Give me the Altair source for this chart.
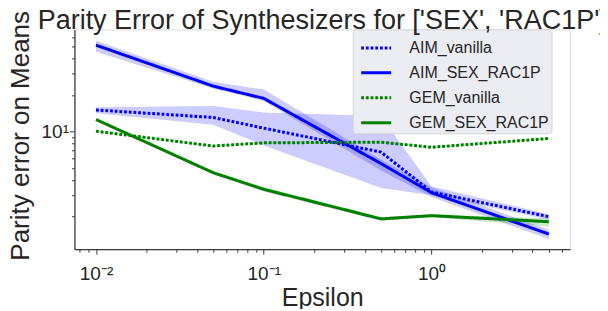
import altair as alt
import pandas as pd

# ---- data ----
epsilon = [0.01, 0.05, 0.1, 0.5, 1, 5]
series_names = ["AIM_vanilla", "AIM_SEX_RAC1P", "GEM_vanilla", "GEM_SEX_RAC1P"]

aim_vanilla = [15.1, 13.1, 10.7, 6.8, 3.2, 2.0]
aim_vanilla_lo = [14.2, 11.4, 7.7, 3.45, 3.0, 1.9]
aim_vanilla_hi = [15.9, 16.3, 14.4, 13.5, 3.55, 2.1]

aim_sex = [51.5, 23.7, 18.8, 5.47, 3.15, 1.44]
aim_sex_lo = [45.4, 22.7, 17.9, 4.8, 2.9, 1.31]
aim_sex_hi = [56.0, 25.7, 22.2, 5.9, 3.5, 1.56]

gem_vanilla = [10.1, 7.63, 8.1, 8.2, 7.45, 8.8]
gem_vanilla_lo = [9.95, 7.5, 7.95, 8.05, 7.3, 8.65]
gem_vanilla_hi = [10.25, 7.75, 8.25, 8.35, 7.6, 8.95]

gem_sex = [12.6, 4.6, 3.36, 1.92, 2.04, 1.82]
gem_sex_lo = [12.45, 4.5, 3.22, 1.85, 1.98, 1.66]
gem_sex_hi = [12.75, 4.7, 3.5, 1.99, 2.10, 1.94]

x_major = [0.01, 0.1, 1]
x_minor = [0.008, 0.009, 0.02, 0.03, 0.04, 0.05, 0.06, 0.07, 0.08, 0.09,
           0.2, 0.3, 0.4, 0.5, 0.6, 0.7, 0.8, 0.9, 2, 3, 4, 5, 6]
y_major = [10]
y_minor = [2, 3, 4, 5, 6, 7, 8, 9, 20, 30, 40, 50, 60]

colors = ["#0000ff", "#0000ff", "#008000", "#008000"]
dashes = [[2.8, 1.9], [1, 0], [2.8, 1.9], [1, 0]]

# ---- build table ----
vals = [aim_vanilla, aim_sex, gem_vanilla, gem_sex]
los = [aim_vanilla_lo, aim_sex_lo, gem_vanilla_lo, gem_sex_lo]
his = [aim_vanilla_hi, aim_sex_hi, gem_vanilla_hi, gem_sex_hi]
rows = []
for name, v, lo, hi in zip(series_names, vals, los, his):
    for e, a, b, c in zip(epsilon, v, lo, hi):
        rows.append({"epsilon": e, "value": a, "lo": b, "hi": c, "series": name,
                     "method": name.split("_")[0]})
df = pd.DataFrame(rows)

FONT = "Liberation Sans"
TXT = "#262626"
AX = "#3a3a3a"

xscale = alt.Scale(type="log", domain=[0.00744, 6.69], nice=False, zero=False)
yscale = alt.Scale(type="log", domain=[1.081, 69.4], nice=False, zero=False)

base = alt.Chart(df)

minor_x_axis = alt.Axis(values=x_minor, labels=False, tickSize=3, domain=False,
                        title=None, orient="bottom", grid=False, tickColor=AX, tickWidth=1)
minor_y_axis = alt.Axis(values=y_minor, labels=False, tickSize=3, domain=False,
                        title=None, orient="left", grid=False, tickColor=AX, tickWidth=1)


def band_layer(method, fill, axes):
    return base.transform_filter(alt.datum.method == method).mark_area(
        opacity=0.2, fill=fill).encode(
        x=alt.X("epsilon:Q", scale=xscale, axis=minor_x_axis if axes else None),
        y=alt.Y("lo:Q", scale=yscale, axis=minor_y_axis if axes else None),
        y2="hi:Q",
        detail="series:N",
    )


bands_aim = band_layer("AIM", "#0000ff", True)
bands_gem = band_layer("GEM", "#008000", False)

leg = alt.Legend(title=None, orient="none", legendX=278.5, legendY=0,
                 fillColor="#ececf3", strokeColor="#d6d6d6", cornerRadius=3,
                 padding=2, rowPadding=0,
                 labelFont=FONT, labelFontSize=16, labelColor=TXT,
                 symbolType="stroke", symbolSize=900, symbolOffset=5,
                 symbolStrokeWidth=3, labelOffset=16.7)

lines = base.mark_line(strokeWidth=3).encode(
    x=alt.X("epsilon:Q", scale=xscale,
            axis=alt.Axis(values=x_major, orient="bottom", grid=False,
                          labelExpr="datum.value < 0.05 ? '10⁻²' : (datum.value < 0.5 ? '10⁻¹' : '10⁰')",
                          title="Epsilon", tickSize=5, tickColor=AX, tickWidth=1,
                          domainColor=AX, domainWidth=1.25,
                          labelFont=FONT, labelFontSize=19, labelColor=TXT,
                          labelBaseline="alphabetic", labelPadding=25,
                          titleFont=FONT, titleFontSize=25, titleColor=TXT,
                          titleFontWeight="normal", titleBaseline="alphabetic",
                          titleY=56)),
    y=alt.Y("value:Q", scale=yscale,
            axis=alt.Axis(values=y_major, orient="left", grid=False,
                          labelExpr="'10¹'",
                          title="Parity error on Means", tickSize=5, tickColor=AX,
                          tickWidth=1, domainColor=AX, domainWidth=1.25,
                          labelFont=FONT, labelFontSize=19, labelColor=TXT,
                          labelPadding=1,
                          titleFont=FONT, titleFontSize=26, titleColor=TXT,
                          titleFontWeight="normal", titleAngle=270,
                          titleBaseline="middle", titleAlign="center",
                          titleX=-53.5, titleY=106)),
    color=alt.Color("series:N", sort=series_names,
                    scale=alt.Scale(domain=series_names, range=colors),
                    legend=leg),
    strokeDash=alt.StrokeDash("series:N", sort=series_names,
                              scale=alt.Scale(domain=series_names, range=dashes),
                              legend=leg),
)

chart = alt.layer(bands_aim, bands_gem, lines).resolve_axis(
    x="independent", y="independent").properties(
    width=496,
    height=220,
    autosize=alt.AutoSizeParams(type="none"),
    padding={"left": 66.5, "top": 21.3, "right": 30, "bottom": 60},
    title=alt.TitleParams("Parity Error of Synthesizers for ['SEX', 'RAC1P']",
                          font=FONT, fontSize=27, color=TXT, fontWeight="normal",
                          anchor="middle", offset=-25),
).configure_view(stroke=AX, strokeWidth=1.25).configure(background="white")

chart.save("out.html", embed_options={"renderer": "svg", "actions": False})
